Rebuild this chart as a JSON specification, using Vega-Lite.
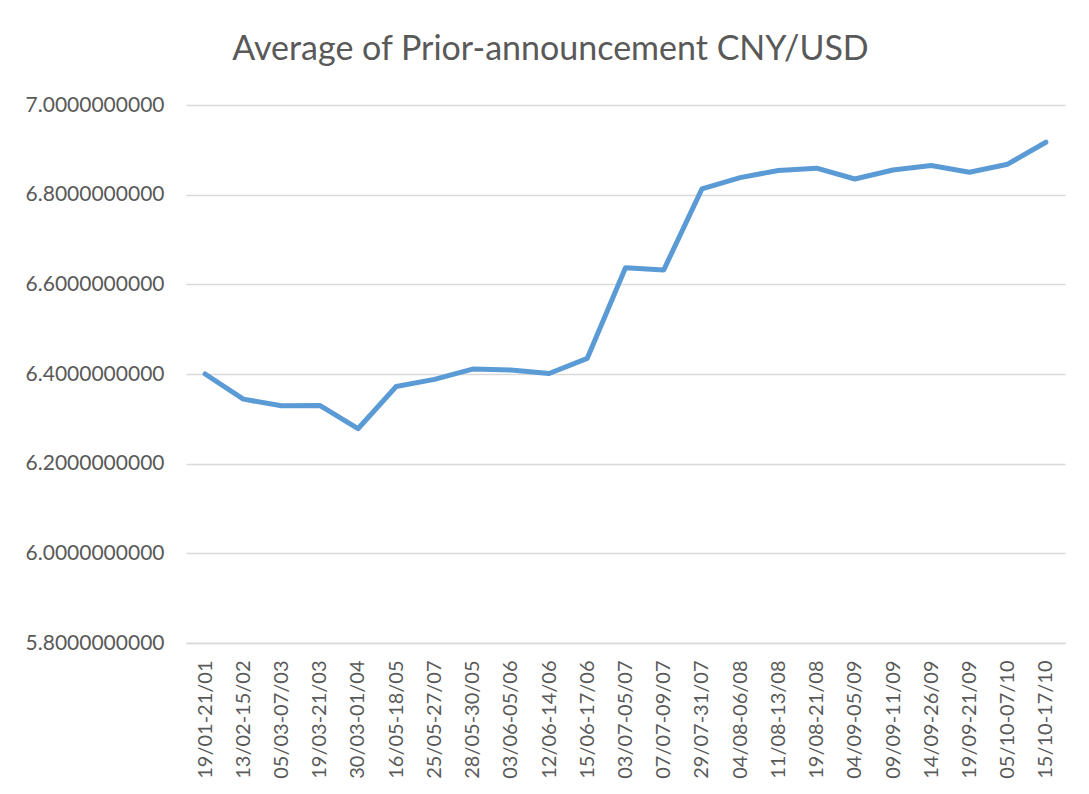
{
  "$schema": "https://vega.github.io/schema/vega-lite/v6.json",
  "width": 879,
  "height": 538,
  "autosize": {"type": "none"},
  "padding": {"left": 186, "top": 105, "right": 24, "bottom": 151},
  "background": "#ffffff",
  "title": {
    "text": "Average of Prior-announcement CNY/USD",
    "font": "Lato",
    "fontSize": 34,
    "fontWeight": "normal",
    "color": "#595959",
    "anchor": "middle",
    "dx": -75,
    "offset": 27
  },
  "config": {
    "view": {"stroke": null},
    "font": "Lato"
  },
  "data": {
    "values": [
      {"period": "19/01-21/01", "value": 6.400},
      {"period": "13/02-15/02", "value": 6.344},
      {"period": "05/03-07/03", "value": 6.329},
      {"period": "19/03-21/03", "value": 6.330},
      {"period": "30/03-01/04", "value": 6.278},
      {"period": "16/05-18/05", "value": 6.372},
      {"period": "25/05-27/07", "value": 6.388},
      {"period": "28/05-30/05", "value": 6.411},
      {"period": "03/06-05/06", "value": 6.409},
      {"period": "12/06-14/06", "value": 6.401},
      {"period": "15/06-17/06", "value": 6.435},
      {"period": "03/07-05/07", "value": 6.637},
      {"period": "07/07-09/07", "value": 6.632},
      {"period": "29/07-31/07", "value": 6.813},
      {"period": "04/08-06/08", "value": 6.838},
      {"period": "11/08-13/08", "value": 6.854},
      {"period": "19/08-21/08", "value": 6.859},
      {"period": "04/09-05/09", "value": 6.835},
      {"period": "09/09-11/09", "value": 6.855},
      {"period": "14/09-26/09", "value": 6.865},
      {"period": "19/09-21/09", "value": 6.850},
      {"period": "05/10-07/10", "value": 6.868},
      {"period": "15/10-17/10", "value": 6.917}
    ]
  },
  "mark": {"type": "line", "color": "#5B9BD5", "strokeWidth": 5, "strokeCap": "round", "strokeJoin": "round"},
  "encoding": {
    "x": {
      "field": "period",
      "type": "nominal",
      "sort": null,
      "scale": {"type": "point", "padding": 0.5},
      "axis": {
        "title": null,
        "labelAngle": -90,
        "labelFontSize": 20,
        "labelColor": "#595959",
        "labelPadding": 17,
        "ticks": false,
        "domainColor": "#D9D9D9",
        "domainWidth": 1.5,
        "grid": false
      }
    },
    "y": {
      "field": "value",
      "type": "quantitative",
      "scale": {"domain": [5.8, 7.0], "nice": false, "zero": false},
      "axis": {
        "title": null,
        "values": [5.8, 6.0, 6.2, 6.4, 6.6, 6.8, 7.0],
        "format": ".10f",
        "labelFontSize": 21,
        "labelColor": "#595959",
        "labelPadding": 22,
        "ticks": false,
        "domain": false,
        "grid": true,
        "gridColor": "#D9D9D9",
        "gridWidth": 1.5
      }
    }
  }
}
